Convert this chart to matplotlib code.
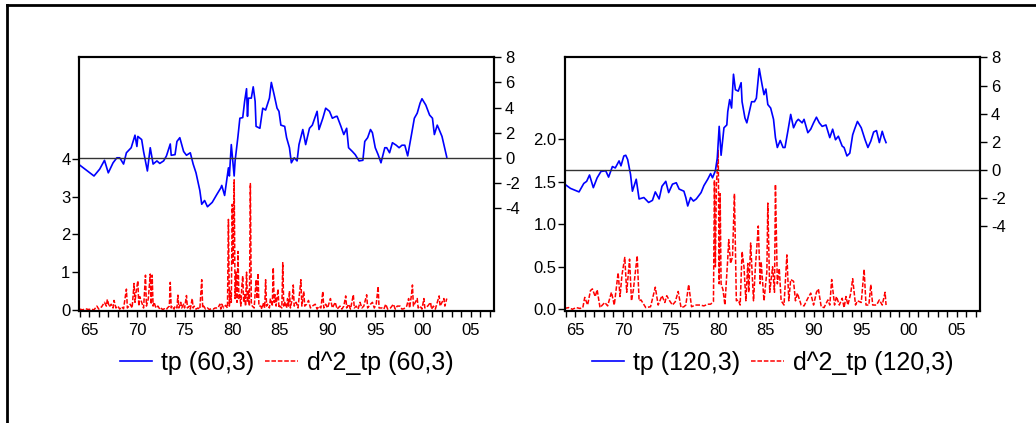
import matplotlib
matplotlib.use('Agg')
import matplotlib.pyplot as plt
from matplotlib.lines import Line2D
from matplotlib.ticker import FormatStrFormatter, MultipleLocator

plt.rcParams['font.family'] = ['Liberation Sans', 'DejaVu Sans']
plt.rcParams['axes.unicode_minus'] = False

# years since 1900 and values
tp60_t = [64.0, 65.5, 66.1, 66.6, 67.0, 67.5, 67.9, 68.2, 68.6, 68.9, 69.4, 69.8, 70.0, 70.1,
          70.5, 70.7, 71.1, 71.4, 71.7, 72.1, 72.4, 72.8, 73.1, 73.5, 73.6, 74.0, 74.2, 74.5,
          74.9, 75.2, 75.6, 75.9, 76.2, 76.6, 76.8, 77.1, 77.4, 77.9, 78.4, 78.8, 78.9, 79.2,
          79.6, 79.7, 79.9, 80.2, 80.3, 80.6, 80.8, 81.1, 81.3, 81.5, 81.6, 81.7, 82.0, 82.2,
          82.4, 82.5, 82.9, 83.2, 83.5, 83.9, 84.1, 84.4, 84.7, 84.9, 85.1, 85.5, 85.7, 86.0,
          86.2, 86.5, 86.8, 87.0, 87.4, 87.7, 88.1, 88.4, 88.9, 89.1, 89.5, 89.8, 90.2, 90.5,
          90.9, 91.0, 91.4, 91.7, 92.0, 92.2, 92.6, 92.9, 93.3, 93.7, 93.9, 94.2, 94.5, 94.7,
          95.0, 95.3, 95.6, 96.0, 96.2, 96.5, 96.8, 97.2, 97.5, 97.8, 98.1, 98.4, 98.8, 99.1,
          99.4, 99.7, 99.9, 100.3, 100.7, 101.0, 101.2, 101.5, 101.7, 102.0, 102.5]
tp60_v = [-0.58, -1.45, -0.9, -0.2, -1.2, -0.4, 0.0, 0.0, -0.5, 0.4, 0.8, 1.8, 0.9, 1.7,
          1.45, 0.5, -1.05, 0.8, -0.5, -0.25, -0.45, -0.25, 0.15, 1.1, 0.2, 0.25, 1.3, 1.6,
          0.5, 0.2, 0.4, -0.5, -1.2, -2.6, -3.7, -3.4, -3.9, -3.55, -2.9, -2.4, -2.2, -3.0,
          -0.8, -1.45, 1.05, -1.45, -0.25, 1.7, 3.15, 3.2, 4.5, 5.5, 3.3, 4.75, 4.75, 5.65,
          4.5, 2.5, 2.35, 3.95, 3.8, 4.75, 6.0, 5.0, 3.95, 3.7, 2.6, 2.5, 1.6, 0.8,
          -0.4, 0.0, -0.25, 1.05, 2.25, 1.05, 2.35, 2.6, 3.7, 2.25, 3.15, 3.95, 3.7, 3.15,
          3.3, 3.3, 2.5, 1.85, 2.35, 0.8, 0.5, 0.25, -0.25, -0.2, 1.3, 1.6, 2.25, 2.0,
          0.8, 0.25, -0.4, 0.8, 0.8, 0.4, 1.2, 1.0, 0.8, 1.0, 1.0, 0.15, 1.85, 3.15,
          3.55, 4.35, 4.7, 4.2, 3.4, 3.15, 1.85, 2.6, 2.25, 1.7, 0.05]

d2_60_t = [64.0, 64.3, 64.6, 64.9, 65.2, 65.5, 65.8, 66.0, 66.3, 66.6, 66.8, 66.9, 67.1, 67.3,
           67.5, 67.6, 67.8, 68.0, 68.2, 68.4, 68.6, 68.9, 69.0, 69.3, 69.5, 69.7, 69.8, 69.9,
           70.1, 70.2, 70.3, 70.5, 70.7, 70.9, 71.0, 71.2, 71.4, 71.5, 71.6, 71.7, 71.8, 72.0,
           72.2, 72.4, 72.5, 72.7, 72.9, 73.1, 73.2, 73.4, 73.5, 73.6, 73.7, 73.9, 74.0, 74.2,
           74.3, 74.4, 74.6, 74.7, 74.9, 75.0, 75.2, 75.3, 75.5, 75.6, 75.8, 75.9, 76.0, 76.2,
           76.4, 76.6, 76.8, 76.9, 77.0, 77.2, 77.4, 77.6, 77.8, 78.0, 78.2, 78.5, 78.7, 78.8,
           78.9, 79.1, 79.3, 79.5, 79.6, 79.7, 79.8, 79.9, 80.0, 80.1, 80.2, 80.3, 80.4, 80.5,
           80.6, 80.7, 80.8, 80.9, 81.0, 81.1, 81.2, 81.3, 81.4, 81.5, 81.6, 81.7, 81.8, 81.9,
           82.0, 82.1, 82.3, 82.5, 82.6, 82.7, 82.8, 83.0, 83.1, 83.3, 83.4, 83.5, 83.6, 83.7,
           83.9, 84.0, 84.2, 84.3, 84.4, 84.5, 84.6, 84.8, 84.9, 85.0, 85.2, 85.3, 85.4, 85.5,
           85.7, 85.8, 85.9, 86.0, 86.1, 86.3, 86.4, 86.5, 86.7, 86.9, 87.2, 87.3, 87.5, 87.6,
           87.8, 88.0, 88.2, 88.4, 88.7, 88.9, 89.1, 89.3, 89.5, 89.6, 89.8, 90.0, 90.3, 90.5,
           90.8, 91.0, 91.3, 91.5, 91.7, 91.9, 92.0, 92.2, 92.4, 92.7, 92.8, 93.0, 93.2, 93.4,
           93.6, 93.8, 94.1, 94.2, 94.5, 94.7, 94.9, 95.1, 95.3, 95.4, 95.7, 95.9, 96.1, 96.3,
           96.6, 96.9, 97.1, 97.3, 97.6, 97.8, 98.0, 98.3, 98.5, 98.6, 98.8, 98.9, 99.0, 99.2,
           99.4, 99.5, 99.7, 99.9, 100.1, 100.2, 100.5, 100.8, 100.9, 101.1, 101.3, 101.5, 101.7, 101.8,
           102.0, 102.2, 102.3, 102.5]
d2_60_v = [0.02, 0.0, 0.03, 0.01, 0.02, 0.0, 0.1, 0.02, 0.08, 0.2, 0.1, 0.28, 0.08, 0.15,
           0.05, 0.25, 0.05, 0.1, 0.02, 0.08, 0.03, 0.55, 0.05, 0.15, 0.05, 0.7, 0.2, 0.45,
           0.77, 0.1, 0.35, 0.2, 0.05, 0.92, 0.1, 0.3, 0.95, 0.15, 0.92, 0.1, 0.2, 0.05,
           0.1, 0.02, 0.05, 0.01, 0.03, 0.01, 0.05, 0.1, 0.73, 0.05, 0.1, 0.02, 0.1, 0.05,
           0.39, 0.05, 0.2, 0.05, 0.15, 0.05, 0.38, 0.05, 0.1, 0.02, 0.3, 0.05, 0.1, 0.02,
           0.05, 0.02, 0.8, 0.05, 0.1, 0.02, 0.05, 0.01, 0.03, 0.02, 0.05, 0.05, 0.15, 0.02,
           0.15, 0.05, 0.12, 0.05, 2.4, 0.1, 0.5, 0.2, 2.8, 1.2, 3.45, 0.3, 1.0, 0.2,
           1.55, 0.3, 0.4, 0.1, 0.6, 0.9, 0.2, 0.4, 0.1, 1.0, 0.2, 0.5, 0.1, 3.35,
           0.2, 0.1, 0.05, 0.8, 0.3, 0.97, 0.1, 0.1, 0.02, 0.2, 0.05, 0.8, 0.1, 0.15,
           0.05, 0.3, 0.1, 1.12, 0.2, 0.4, 0.1, 0.55, 0.05, 0.1, 0.05, 1.25, 0.1, 0.2,
           0.05, 0.3, 0.1, 0.5, 0.05, 0.3, 0.66, 0.1, 0.2, 0.05, 0.8, 0.1, 0.49, 0.1,
           0.15, 0.25, 0.05, 0.1, 0.15, 0.02, 0.1, 0.05, 0.49, 0.05, 0.15, 0.05, 0.3, 0.05,
           0.2, 0.02, 0.1, 0.02, 0.1, 0.37, 0.05, 0.15, 0.02, 0.4, 0.05, 0.1, 0.02, 0.2,
           0.05, 0.1, 0.4, 0.05, 0.15, 0.2, 0.05, 0.15, 0.62, 0.05, 0.05, 0.02, 0.15, 0.02,
           0.05, 0.15, 0.02, 0.1, 0.1, 0.02, 0.03, 0.1, 0.3, 0.05, 0.4, 0.66, 0.1, 0.2,
           0.3, 0.05, 0.1, 0.02, 0.3, 0.05, 0.1, 0.2, 0.02, 0.1, 0.02, 0.2, 0.37, 0.1,
           0.2, 0.3, 0.1, 0.3]

tp120_t = [63.9, 64.5, 65.4, 65.9, 66.2, 66.5, 66.9, 67.3, 67.7, 68.2, 68.5, 68.9, 69.2, 69.6,
           69.8, 70.1, 70.3, 70.5, 70.8, 71.0, 71.4, 71.7, 72.2, 72.7, 73.1, 73.4, 73.8, 74.1,
           74.5, 74.8, 75.2, 75.6, 75.9, 76.4, 76.6, 76.8, 77.1, 77.4, 77.7, 78.2, 78.5, 78.9,
           79.2, 79.4, 79.7, 79.9, 80.1, 80.3, 80.6, 80.9, 81.0, 81.2, 81.4, 81.6, 81.8, 82.1,
           82.4, 82.5, 82.8, 83.0, 83.2, 83.5, 83.8, 84.0, 84.3, 84.6, 84.8, 85.0, 85.2, 85.5,
           85.8, 86.0, 86.2, 86.5, 86.8, 87.0, 87.3, 87.6, 87.9, 88.2, 88.4, 88.8, 89.0, 89.4,
           89.7, 90.0, 90.3, 90.6, 90.9, 91.3, 91.7, 92.0, 92.3, 92.6, 93.0, 93.2, 93.5, 93.8,
           94.1, 94.3, 94.6, 95.0, 95.4, 95.7, 96.0, 96.3, 96.6, 96.9, 97.2, 97.4, 97.6]
tp120_v = [-1.0, -1.3, -1.55, -0.95, -0.8, -0.35, -1.25, -0.55, -0.1, -0.05, -0.5, 0.25, 0.15, 0.65,
           0.3, 1.0, 1.05, 0.75, -0.3, -1.5, -0.65, -2.05, -1.95, -2.3, -2.15, -1.55, -2.05, -1.15,
           -0.8, -1.6, -1.0, -0.9, -1.35, -1.5, -1.95, -2.55, -1.95, -2.2, -2.05, -1.6, -1.1, -0.65,
           -0.25, -0.55, -0.05, 0.85, 3.1, 1.05, 3.0, 3.2, 4.15, 5.0, 4.4, 6.8, 5.7, 5.6,
           6.2, 4.85, 3.7, 3.35, 3.95, 4.85, 4.85, 5.1, 7.2, 6.05, 5.35, 5.75, 4.65, 4.4,
           3.6, 2.3, 1.6, 2.1, 1.6, 1.6, 2.75, 3.95, 3.0, 3.45, 3.6, 3.35, 3.6, 2.65,
           2.9, 3.35, 3.75, 3.35, 3.1, 3.2, 2.3, 2.9, 2.15, 2.4, 1.7, 1.6, 1.0, 1.2,
           2.5, 2.9, 3.45, 3.0, 2.15, 1.6, 2.05, 2.7, 2.8, 1.95, 2.75, 2.3, 1.95]

d2_120_t = [63.9, 64.3, 64.7, 65.1, 65.5, 65.8, 66.0, 66.3, 66.6, 66.8, 67.1, 67.3, 67.6, 68.1,
            68.4, 68.8, 69.1, 69.5, 69.7, 69.9, 70.2, 70.4, 70.7, 70.9, 71.1, 71.5, 71.7, 71.9,
            72.4, 72.9, 73.4, 73.7, 74.1, 74.4, 74.6, 74.9, 75.2, 75.5, 75.8, 76.1, 76.4, 76.6,
            76.9, 77.2, 77.6, 78.1, 78.5, 78.9, 79.2, 79.5, 79.6, 79.7, 79.8, 80.0, 80.1, 80.2,
            80.3, 80.5, 80.7, 81.0, 81.1, 81.3, 81.5, 81.7, 81.9, 82.1, 82.3, 82.5, 82.7, 82.9,
            83.1, 83.2, 83.4, 83.7, 83.9, 84.2, 84.4, 84.5, 84.8, 85.1, 85.2, 85.4, 85.7, 85.9,
            86.0, 86.2, 86.4, 86.6, 86.9, 87.2, 87.4, 87.6, 87.9, 88.1, 88.3, 88.7, 89.0, 89.4,
            89.7, 90.0, 90.3, 90.5, 90.8, 91.1, 91.5, 91.7, 91.9, 92.2, 92.4, 92.7, 93.0, 93.2,
            93.4, 93.6, 93.9, 94.1, 94.4, 94.6, 95.0, 95.3, 95.5, 95.8, 96.0, 96.2, 96.6, 96.9,
            97.2, 97.5, 97.6]
d2_120_v = [0.01, 0.02, 0.0, 0.02, 0.01, 0.02, 0.14, 0.05, 0.22, 0.24, 0.15, 0.23, 0.02, 0.08,
            0.04, 0.2, 0.05, 0.43, 0.15, 0.4, 0.61, 0.2, 0.59, 0.1, 0.23, 0.63, 0.1, 0.11,
            0.02, 0.03, 0.26, 0.05, 0.16, 0.08, 0.16, 0.1, 0.05, 0.09, 0.21, 0.02, 0.03, 0.05,
            0.29, 0.03, 0.05, 0.05, 0.04, 0.06, 0.06, 0.09, 1.52, 0.5, 1.44, 1.87, 0.3, 1.36,
            0.3, 0.23, 0.05, 0.6, 0.82, 0.54, 0.62, 1.36, 0.1, 0.11, 0.05, 0.68, 0.5, 0.1,
            0.54, 0.2, 0.78, 0.1, 0.5, 0.98, 0.3, 0.56, 0.1, 0.44, 1.25, 0.2, 0.5, 0.2,
            1.47, 0.3, 0.48, 0.1, 0.05, 0.64, 0.1, 0.35, 0.33, 0.1, 0.19, 0.05, 0.04, 0.13,
            0.19, 0.05, 0.2, 0.24, 0.03, 0.02, 0.11, 0.05, 0.35, 0.05, 0.15, 0.05, 0.13, 0.02,
            0.15, 0.05, 0.19, 0.36, 0.05, 0.1, 0.08, 0.47, 0.05, 0.05, 0.29, 0.05, 0.05, 0.11,
            0.05, 0.2, 0.05]

year_ticks = [65, 70, 75, 80, 85, 90, 95, 100, 105]
year_labels = ['65', '70', '75', '80', '85', '90', '95', '00', '05']
tp_ticks = [-4, -2, 0, 2, 4, 6, 8]
d2_ticks_60 = [0, 1, 2, 3, 4]
d2_ticks_120 = [0.0, 0.5, 1.0, 1.5, 2.0]

fig = plt.figure(figsize=(10.36, 4.23), dpi=100)


def panel(x0, t_tp, v_tp, t_d2, v_d2, d2_ticks, d2_lim, tp_lim, d2_fmt, name):
    ax = fig.add_axes([x0, 0.2648, 0.4008, 0.5997])
    red, = ax.plot(t_d2, v_d2, color='red', lw=1.1, ls='--', dashes=(3, 1.2))
    ax.set_xlim(63.9, 107.45)
    ax.set_ylim(*d2_lim)
    ax.set_yticks(d2_ticks)
    ax.yaxis.set_major_formatter(FormatStrFormatter(d2_fmt))
    ax.set_xticks(year_ticks)
    ax.set_xticklabels(year_labels)
    ax.xaxis.set_minor_locator(MultipleLocator(1))
    ax.tick_params(axis='x', which='both', direction='out', length=4, width=1, pad=5, labelsize=12)
    ax.tick_params(axis='y', direction='out', length=5, width=1, pad=1, labelsize=12)

    ax2 = ax.twinx()
    blue, = ax2.plot(t_tp, v_tp, color='blue', lw=1.2)
    ax2.axhline(0, color='#333333', lw=1)
    ax2.set_ylim(*tp_lim)
    ax2.set_yticks(tp_ticks)
    ax2.tick_params(axis='y', direction='out', length=5, width=1, pad=3, labelsize=12)
    for a in (ax, ax2):
        for s in a.spines.values():
            s.set_linewidth(1.5)

    fig.legend([blue, red], ['tp (%s)' % name, 'd^2_tp (%s)' % name],
               loc='center', bbox_to_anchor=(x0 + 0.2004, 1 - 363 / 423), ncol=2,
               frameon=False, fontsize=18, handlelength=1.3, handletextpad=0.35,
               columnspacing=0.45)


panel(0.076, tp60_t, tp60_v, d2_60_t, d2_60_v, d2_ticks_60, (-0.03, 6.7), (-12.2, 8.0), '%d', '60,3')
panel(0.5451, tp120_t, tp120_v, d2_120_t, d2_120_v, d2_ticks_120, (-0.02, 2.965), (-10.0, 7.9), '%.1f', '120,3')

# outer frame (top and left edges)
fig.add_artist(Line2D([7 / 1036, 1], [1 - 5 / 423, 1 - 5 / 423], transform=fig.transFigure, color='k', lw=2))
fig.add_artist(Line2D([7 / 1036, 7 / 1036], [0, 1 - 5 / 423], transform=fig.transFigure, color='k', lw=2))

fig.savefig('out.png', dpi=100)
